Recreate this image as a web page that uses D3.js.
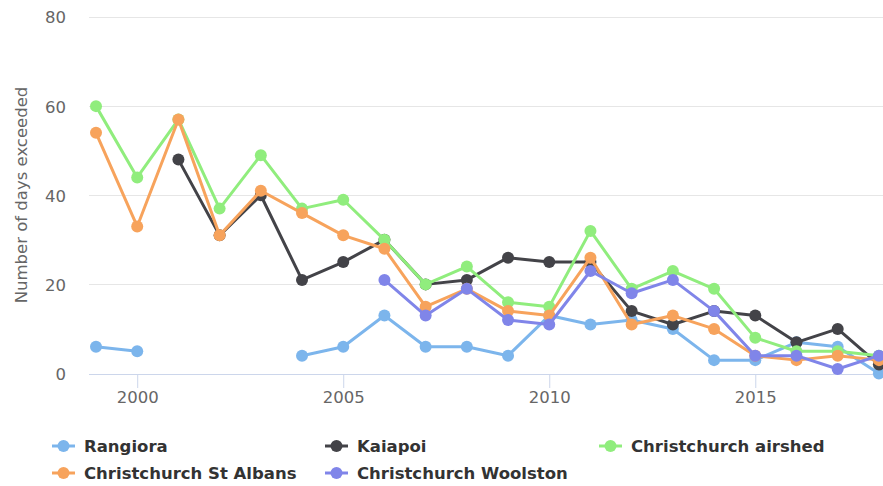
<!DOCTYPE html>
<html>
<head>
<meta charset="utf-8">
<script src="https://cdn.jsdelivr.net/npm/d3@7"></script>
<style>
  body { margin: 0; background: #fff; }
  svg { display: block; }
</style>
</head>
<body>
<div id="chart"></div>
<script>
// days exceeded per year, null = no data that year
var years = [1999, 2000, 2001, 2002, 2003, 2004, 2005, 2006, 2007, 2008, 2009, 2010, 2011, 2012, 2013, 2014, 2015, 2016, 2017, 2018];
var rangiora   = [6, 5, null, null, null, 4, 6, 13, 6, 6, 4, 13, 11, 12, 10, 3, 3, 7, 6, 0];
var kaiapoi    = [null, null, 48, 31, 40, 21, 25, 30, 20, 21, 26, 25, 25, 14, 11, 14, 13, 7, 10, 2];
var airshed    = [60, 44, 57, 37, 49, 37, 39, 30, 20, 24, 16, 15, 32, 19, 23, 19, 8, 5, 5, 4];
var stAlbans   = [54, 33, 57, 31, 41, 36, 31, 28, 15, 19, 14, 13, 26, 11, 13, 10, 4, 3, 4, 3];
var woolston   = [null, null, null, null, null, null, null, 21, 13, 19, 12, 11, 23, 18, 21, 14, 4, 4, 1, 4];
var seriesNames = ['Rangiora', 'Kaiapoi', 'Christchurch airshed', 'Christchurch St Albans', 'Christchurch Woolston'];
var yTicks = [0, 20, 40, 60, 80];
var xTicks = [2000, 2005, 2010, 2015];

(function(d3) {
  'use strict';
  var width = 883;
  var height = 486;
  var colors = ['#7cb5ec', '#434348', '#90ed7d', '#f7a35c', '#8085e9'];
  var allValues = [rangiora, kaiapoi, airshed, stAlbans, woolston];

  var series = seriesNames.map(function(name, i) {
    return {
      name: name,
      color: colors[i],
      points: years.map(function(y, j) { return { year: y, value: allValues[i][j] }; })
    };
  });

  var svg = d3.select('#chart')
    .append('svg')
      .attr('width', width)
      .attr('height', height)
      .style('font-family', '"DejaVu Sans", sans-serif');

  var x = d3.scaleLinear().domain([1998.83, 2018.1]).range([89, 883]);
  var y = d3.scaleLinear().domain([0, 80]).range([373.5, 17]);

  // grid lines
  svg.append('g')
    .selectAll('line')
    .data(yTicks.slice(1))
    .enter()
    .append('line')
      .attr('x1', 89).attr('x2', width)
      .attr('y1', function(d) { return Math.round(y(d)) + 0.5; })
      .attr('y2', function(d) { return Math.round(y(d)) + 0.5; })
      .attr('stroke', '#e6e6e6')
      .attr('stroke-width', 1);

  // y axis labels
  var yAxis = d3.axisLeft(y).tickValues(yTicks).tickSize(0).tickPadding(0);
  var yg = svg.append('g').attr('transform', 'translate(66,0)').call(yAxis);
  yg.select('.domain').remove();
  yg.selectAll('text')
    .attr('fill', '#666')
    .style('font-size', '16.5px')
    .attr('dy', '0.36em')
    .attr('text-anchor', 'end')
    .style('font-family', '"DejaVu Sans", sans-serif');

  svg.append('text')
    .attr('transform', 'translate(27,195) rotate(-90)')
    .attr('text-anchor', 'middle')
    .attr('fill', '#666')
    .style('font-size', '16.5px')
    .text('Number of days exceeded');

  // x axis
  var xAxis = d3.axisBottom(x).tickValues(xTicks).tickFormat(d3.format('d')).tickSize(14).tickPadding(3);
  var xg = svg.append('g').attr('transform', 'translate(0,374)').call(xAxis);
  xg.select('.domain').attr('d', 'M89,0.5H' + width).attr('stroke', '#ccd6eb');
  xg.selectAll('.tick line').attr('stroke', '#ccd6eb');
  xg.selectAll('text')
    .attr('fill', '#666')
    .style('font-size', '16.5px')
    .style('font-family', '"DejaVu Sans", sans-serif');

  var line = d3.line()
    .defined(function(d) { return d.value !== null; })
    .x(function(d) { return x(d.year); })
    .y(function(d) { return y(d.value); });

  var groups = svg.selectAll('.series')
    .data(series)
    .enter()
    .append('g')
    .attr('class', 'series');

  groups.append('path')
    .attr('d', function(d) { return line(d.points); })
    .attr('fill', 'none')
    .attr('stroke', function(d) { return d.color; })
    .attr('stroke-width', 3)
    .attr('stroke-linejoin', 'round')
    .attr('stroke-linecap', 'round');

  groups.each(function(s) {
    d3.select(this).selectAll('circle')
      .data(s.points.filter(function(p) { return p.value !== null; }))
      .enter()
      .append('circle')
      .attr('cx', function(p) { return x(p.year); })
      .attr('cy', function(p) { return y(p.value); })
      .attr('r', 6)
      .attr('fill', s.color);
  });

  // legend, 3 columns
  var legendX = [52, 325, 599];
  var legendY = [446, 473];
  var legend = svg.selectAll('.legend')
    .data(series)
    .enter()
    .append('g')
    .attr('class', 'legend')
    .attr('transform', function(d, i) {
      return 'translate(' + legendX[i % 3] + ',' + legendY[Math.floor(i / 3)] + ')';
    });
  legend.append('line')
    .attr('x1', 0).attr('x2', 23)
    .attr('y1', 0).attr('y2', 0)
    .attr('stroke', function(d) { return d.color; })
    .attr('stroke-width', 3);
  legend.append('circle')
    .attr('cx', 11.5).attr('cy', 0).attr('r', 6)
    .attr('fill', function(d) { return d.color; });
  legend.append('text')
    .attr('x', 32)
    .attr('y', 0)
    .attr('dy', '0.36em')
    .attr('fill', '#333')
    .style('font-size', '16.5px')
    .style('font-weight', 'bold')
    .text(function(d) { return d.name; });
})(window.d3);
</script>
</body>
</html>
